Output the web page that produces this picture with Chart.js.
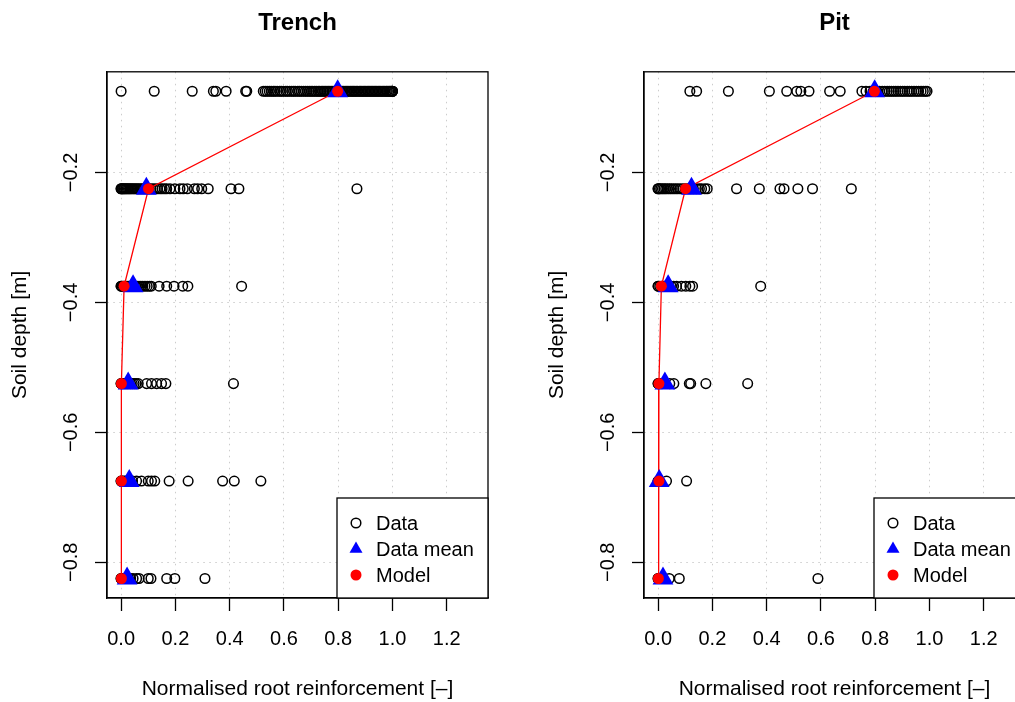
<!DOCTYPE html>
<html>
<head>
<meta charset="utf-8">
<script src="https://cdn.jsdelivr.net/npm/chart.js@4.4.1/dist/chart.umd.min.js"></script>
<style>
  html, body { margin: 0; padding: 0; background: #fff; overflow: hidden; width: 1015px; height: 702px; }
  .panel { position: absolute; top: 0; width: 530px; height: 702px; }
  canvas { display: block; }
</style>
</head>
<body>
<div class="panel" style="left:0px"><canvas id="trenchChart" width="530" height="702"></canvas></div>
<div class="panel" style="left:537px"><canvas id="pitChart" width="530" height="702"></canvas></div>
<script>
// Sampling depths (m), shared by both sites
const depths = [-0.075, -0.225, -0.375, -0.525, -0.675, -0.825];

// Normalised root reinforcement, one list per depth — Trench
const trenchData = [
  [0.000, 0.122, 0.262, 0.340, 0.349, 0.387, 0.459, 0.463, 0.524, 0.531, 0.538, 0.546, 0.553, 0.561, 0.567, 0.575,
   0.584, 0.590, 0.598, 0.607, 0.613, 0.621, 0.629, 0.636, 0.642, 0.651, 0.657, 0.664, 0.672, 0.679, 0.686, 0.693,
   0.700, 0.706, 0.713, 0.719, 0.726, 0.731, 0.737, 0.743, 0.748, 0.754, 0.759, 0.765, 0.770, 0.776, 0.781, 0.787,
   0.792, 0.798, 0.803, 0.809, 0.814, 0.819, 0.825, 0.830, 0.835, 0.840, 0.846, 0.851, 0.856, 0.861, 0.866, 0.871,
   0.877, 0.882, 0.887, 0.892, 0.897, 0.902, 0.907, 0.912, 0.917, 0.922, 0.927, 0.932, 0.937, 0.942, 0.947, 0.952,
   0.957, 0.962, 0.967, 0.972, 0.977, 0.981, 0.986, 0.990, 0.994, 0.997, 1.000, 1.000, 1.000],
  [0.000, 0.000, 0.003, 0.006, 0.009, 0.012, 0.016, 0.019, 0.023, 0.027, 0.031, 0.035, 0.040, 0.044, 0.049, 0.054,
   0.059, 0.064, 0.070, 0.076, 0.082, 0.088, 0.095, 0.102, 0.109, 0.117, 0.125, 0.134, 0.143, 0.151, 0.160, 0.168,
   0.180, 0.198, 0.217, 0.229, 0.244, 0.270, 0.282, 0.297, 0.321, 0.405, 0.434, 0.869],
  [0.000, 0.000, 0.004, 0.008, 0.012, 0.016, 0.021, 0.026, 0.031, 0.036, 0.041, 0.047, 0.053, 0.059, 0.066, 0.073,
   0.080, 0.088, 0.096, 0.104, 0.111, 0.140, 0.168, 0.195, 0.227, 0.246, 0.444],
  [0.000, 0.000, 0.004, 0.008, 0.013, 0.018, 0.023, 0.029, 0.035, 0.041, 0.048, 0.055, 0.063, 0.094, 0.112, 0.131,
   0.149, 0.165, 0.414],
  [0.000, 0.000, 0.006, 0.012, 0.019, 0.026, 0.034, 0.042, 0.057, 0.075, 0.100, 0.112, 0.124, 0.177, 0.247, 0.374,
   0.417, 0.515],
  [0.000, 0.000, 0.006, 0.012, 0.019, 0.027, 0.035, 0.044, 0.057, 0.066, 0.100, 0.110, 0.168, 0.198, 0.309]
];
const trenchMean  = [0.798, 0.093, 0.044, 0.026, 0.030, 0.022];
const trenchModel = [0.798, 0.101, 0.011, 0.001, 0.001, 0.001];

// Normalised root reinforcement, one list per depth — Pit
const pitData = [
  [0.117, 0.142, 0.259, 0.410, 0.474, 0.511, 0.526, 0.556, 0.632, 0.671, 0.751, 0.766, 0.781, 0.793, 0.806, 0.816,
   0.826, 0.835, 0.844, 0.852, 0.860, 0.868, 0.876, 0.884, 0.893, 0.901, 0.909, 0.918, 0.926, 0.934, 0.943, 0.952,
   0.960, 0.969, 0.977, 0.985, 0.991],
  [0.000, 0.000, 0.005, 0.010, 0.016, 0.022, 0.028, 0.035, 0.042, 0.049, 0.057, 0.065, 0.073, 0.082, 0.091, 0.100,
   0.110, 0.120, 0.130, 0.141, 0.152, 0.160, 0.172, 0.181, 0.289, 0.373, 0.449, 0.464, 0.515, 0.569, 0.712],
  [0.000, 0.000, 0.006, 0.012, 0.018, 0.025, 0.032, 0.040, 0.048, 0.057, 0.068, 0.086, 0.102, 0.117, 0.127, 0.378],
  [0.000, 0.000, 0.007, 0.014, 0.043, 0.058, 0.115, 0.120, 0.176, 0.330],
  [0.000, 0.000, 0.005, 0.031, 0.105],
  [0.000, 0.000, 0.006, 0.041, 0.078, 0.589]
];
const pitMean  = [0.798, 0.123, 0.037, 0.025, 0.004, 0.018];
const pitModel = [0.797, 0.101, 0.012, 0.003, 0.003, 0.001];

// Axis ticks and limits
const xTicks = [0.0, 0.2, 0.4, 0.6, 0.8, 1.0, 1.2];
const yTicks = [-0.8, -0.6, -0.4, -0.2];
const xLimits = [-0.052, 1.352];
const yLimits = [-0.855, -0.045];

const FONT = "'Liberation Sans', Arial, Helvetica, sans-serif";
Chart.defaults.font.family = FONT;
Chart.defaults.color = '#000';

// Full rectangle around the plotting region
const framePlugin = {
  id: 'frame',
  afterDatasetsDraw(chart) {
    const { ctx, chartArea: a } = chart;
    ctx.save();
    ctx.strokeStyle = '#000';
    ctx.lineWidth = 1.3;
    ctx.strokeRect(a.left, a.top, a.right - a.left, a.bottom - a.top);
    ctx.restore();
  }
};

// Boxed key in the bottom-right corner of the plotting region
const keyPlugin = {
  id: 'key',
  afterDraw(chart) {
    const { ctx, chartArea: a } = chart;
    const entries = chart.data.datasets.filter(d => d.inKey);
    const w = 151, h = 100;
    const left = a.right - w, top = a.bottom - h;
    ctx.save();
    ctx.fillStyle = '#fff';
    ctx.fillRect(left, top, w, h);
    ctx.strokeStyle = '#000';
    ctx.lineWidth = 1.3;
    ctx.strokeRect(left, top, w, h);
    entries.forEach((d, i) => {
      const cy = top + 25 + i * 26;
      ctx.fillStyle = d.backgroundColor;
      ctx.strokeStyle = d.borderColor || d.backgroundColor;
      ctx.lineWidth = d.borderWidth;
      Chart.helpers.drawPoint(ctx, {
        pointStyle: d.pointStyle, rotation: 0, radius: d.keyRadius, borderWidth: d.borderWidth
      }, left + 19, cy);
      ctx.fillStyle = '#000';
      ctx.font = '20px ' + FONT;
      ctx.textAlign = 'left';
      ctx.textBaseline = 'middle';
      ctx.fillText(d.label, left + 39, cy + 1);
    });
    ctx.restore();
  }
};

function buildPanel(canvasId, title, values, means, model) {
  const observed = [];
  values.forEach((row, i) => row.forEach(v => observed.push({ x: v, y: depths[i] })));
  const meanPts = means.map((v, i) => ({ x: v, y: depths[i] }));
  const modelPts = model.map((v, i) => ({ x: v, y: depths[i] }));

  const gridOpts = (tl) => ({
    color: '#cccccc', lineWidth: 1, drawTicks: true, tickLength: tl,
    tickColor: '#000', tickWidth: 1.3, drawOnChartArea: true
  });

  return new Chart(document.getElementById(canvasId), {
    type: 'scatter',
    data: {
      datasets: [
        { label: 'Data', inKey: true, data: observed, pointStyle: 'circle', pointRadius: 4.8, keyRadius: 4.8,
          borderColor: '#000', backgroundColor: 'rgba(0,0,0,0)', borderWidth: 1.5, order: 4 },
        { label: 'Model fit', data: modelPts, showLine: true, borderColor: '#ff0000', borderWidth: 1.3,
          pointRadius: 0, fill: false, order: 3 },
        { label: 'Data mean', inKey: true, data: meanPts, pointStyle: 'triangle', pointRadius: 12, keyRadius: 7.5,
          backgroundColor: '#0000ff', borderColor: '#0000ff', borderWidth: 0, order: 2 },
        { label: 'Model', inKey: true, data: modelPts, pointStyle: 'circle', pointRadius: 5.5, keyRadius: 5.5,
          backgroundColor: '#ff0000', borderColor: '#ff0000', borderWidth: 0, order: 1 }
      ]
    },
    options: {
      responsive: false,
      animation: false,
      events: [],
      devicePixelRatio: 1,
      layout: { padding: { left: 0, right: 42, top: 0, bottom: 0 } },
      plugins: {
        legend: { display: false },
        tooltip: { enabled: false },
        title: {
          display: true, text: title, fullSize: false, color: '#000',
          font: { size: 24, weight: 'bold' }, padding: { top: 9, bottom: 34 }
        }
      },
      scales: {
        x: {
          type: 'linear', min: xLimits[0], max: xLimits[1],
          afterBuildTicks: s => { s.ticks = xTicks.map(v => ({ value: v })); },
          afterFit: s => { s.height = 104; },
          grid: gridOpts(13),
          border: { display: true, color: '#000', width: 1.3, dash: [1.5, 4.5] },
          ticks: { font: { size: 20 }, color: '#000', padding: 16, maxRotation: 0, minRotation: 0,
                   callback: v => Number(v).toFixed(1) },
          title: { display: true, text: 'Normalised root reinforcement [\u2013]', color: '#000',
                   font: { size: 21 }, padding: { top: 0, bottom: 0 } }
        },
        y: {
          type: 'linear', min: yLimits[0], max: yLimits[1],
          afterBuildTicks: s => { s.ticks = yTicks.map(v => ({ value: v })); },
          afterFit: s => { s.width = 107; },
          grid: gridOpts(12),
          border: { display: true, color: '#000', width: 1.3, dash: [1.5, 4.5] },
          ticks: { font: { size: 20 }, color: '#000', padding: 4, minRotation: 90, maxRotation: 90,
                   crossAlign: 'center',
                   callback: v => (v < 0 ? '\u2212' : '') + Math.abs(v).toFixed(1) },
          title: { display: true, text: 'Soil depth [m]', color: '#000',
                   font: { size: 21 }, padding: { top: 8 } }
        }
      }
    },
    plugins: [framePlugin, keyPlugin]
  });
}

buildPanel('trenchChart', 'Trench', trenchData, trenchMean, trenchModel);
buildPanel('pitChart', 'Pit', pitData, pitMean, pitModel);
</script>
</body>
</html>
